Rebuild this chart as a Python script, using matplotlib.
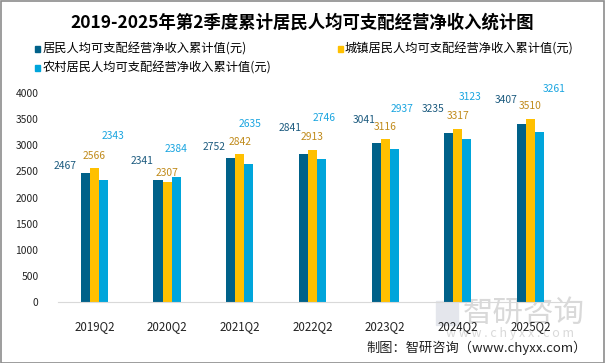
import matplotlib

matplotlib.use("Agg")
import matplotlib.pyplot as plt
import numpy as np
from matplotlib.patches import Rectangle

plt.rcParams["font.family"] = ["Noto Sans CJK SC", "DejaVu Sans"]

quarters = ["2019Q2", "2020Q2", "2021Q2", "2022Q2", "2023Q2", "2024Q2", "2025Q2"]
resident = [2467, 2341, 2752, 2841, 3041, 3235, 3407]
urban = [2566, 2307, 2842, 2913, 3116, 3317, 3510]
rural = [2343, 2384, 2635, 2746, 2937, 3123, 3261]
names = ["居民人均可支配经营净收入累计值(元)",
         "城镇居民人均可支配经营净收入累计值(元)",
         "农村居民人均可支配经营净收入累计值(元)"]

# label nudges in pixels, the source chart has hand-placed labels
off_res = [(-20, 7.5), (-16, 18.5), (-17, 11.5), (-13, 25.5), (-12, 23), (-16, 24), (-15, 24)]
off_urb = [(0, 12.5), (0, 8.5), (0, 12), (0, 12.5), (0, 12), (0, 13), (0, 13)]
off_rur = [(10, 43.5), (0, 28), (1, 40), (3, 40.5), (8.5, 40), (3, 42), (15, 43)]

bar_cols = ["#006189", "#FFC000", "#00A5DB"]
lab_cols = ["#1B5A7E", "#C08A1A", "#1AA5E0"]

fig = plt.figure(figsize=(6.05, 3.63), dpi=100)
ax = fig.add_axes([58 / 605, 1 - 301.7 / 363, 508.7 / 605, 208.4 / 363])
ax.patch.set_alpha(0)

x = np.arange(len(quarters))
w = 0.124
series = [(resident, off_res), (urban, off_urb), (rural, off_rur)]
for i, (vals, offs) in enumerate(series):
    xs = x + (i - 1) * w
    ax.bar(xs, vals, width=w, color=bar_cols[i], zorder=2)
    for xi, v, (dx, dy) in zip(xs, vals, offs):
        ax.annotate(str(v), (xi, v), xytext=(dx, dy), textcoords="offset pixels",
                    ha="center", va="center", fontsize=7.4, color=lab_cols[i],
                    annotation_clip=False)

ax.set_xlim(-0.5, len(quarters) - 0.5)
ax.set_ylim(0, 4000)
ax.set_yticks(range(0, 4001, 500))
ax.set_xticks(x, quarters)
for s in ["top", "right", "left"]:
    ax.spines[s].set_visible(False)
ax.spines["bottom"].set_color("#d9d9d9")
ax.tick_params(axis="both", length=0, colors="#222222")
ax.tick_params(axis="y", labelsize=7.4, pad=14)
ax.tick_params(axis="x", labelsize=8.3, pad=13)

fig.text(0.5, 1 - 23 / 363, "2019-2025年第2季度累计居民人均可支配经营净收入统计图",
         ha="center", va="center", fontsize=12.5, fontweight="bold")

# legend drawn by hand to match the two-column ragged layout
leg = [(37.7, 49), (340, 49), (37.7, 68)]
for i, (lx, ly) in enumerate(leg):
    fig.patches.append(Rectangle((lx / 605 - 2.5 / 605, 1 - ly / 363 - 2.5 / 363), 5 / 605, 5 / 363,
                                 transform=fig.transFigure, color=bar_cols[i]))
    fig.text((lx + 4.5) / 605, 1 - ly / 363, names[i], ha="left", va="center", fontsize=8.8)

# watermark
fig.patches.append(Rectangle((436 / 605, 1 - 325 / 363), 22 / 605, 24 / 363,
                             transform=fig.transFigure, color="#e4e6ec", zorder=-1))
fig.text(524 / 605, 1 - 313 / 363, "智研咨询", ha="center", va="center", fontsize=22,
         color="#d9d9d9", zorder=-1)
fig.text(510 / 605, 1 - 334 / 363, "w w w . c h y x x . c o m", ha="center", va="center",
         fontsize=9, color="#d9d9d9", zorder=-1)

fig.text(587 / 605, 1 - 348 / 363, "制图：智研咨询（www.chyxx.com）", ha="right", va="center",
         fontsize=9.5, color="#222222")

fig.patches.append(Rectangle((0.5 / 605, 0.5 / 363), 603.5 / 605, 361.5 / 363, transform=fig.transFigure,
                             fill=False, edgecolor="#8c8c8c", lw=1.2))

fig.savefig("out.png", dpi=100)
